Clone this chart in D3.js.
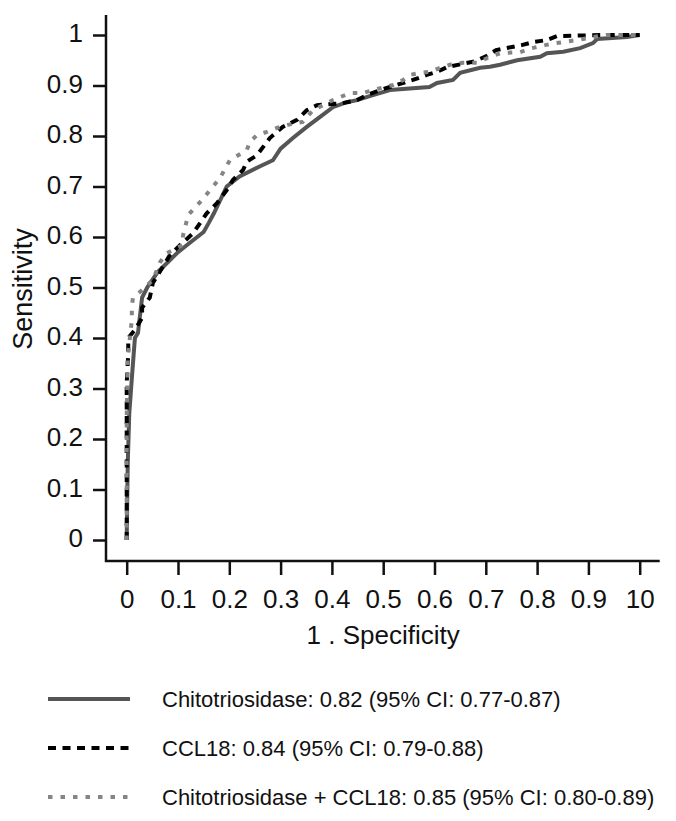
<!DOCTYPE html>
<html lang="en">
<head>
  <meta charset="UTF-8">
  <title>ROC curves</title>
  <style>
    body { margin: 0; background: #fff; }
    svg { display: block; font-family: "Liberation Sans", Arial, sans-serif; }
  </style>
</head>
<body>
  <svg id="chart" width="676" height="821"></svg>

  <script src="https://d3js.org/d3.v7.min.js"></script>
  <script>
    // ROC points: [1 - specificity, sensitivity]
    const chitoPoints = [
      [0, 0], [0.002, 0.15], [0.005, 0.25], [0.01, 0.32], [0.016, 0.40], [0.022, 0.41],
      [0.03, 0.48], [0.04, 0.50], [0.06, 0.53], [0.08, 0.55], [0.10, 0.57], [0.125, 0.59],
      [0.15, 0.61], [0.16, 0.628], [0.17, 0.647], [0.195, 0.70], [0.22, 0.72], [0.26, 0.74],
      [0.285, 0.752], [0.30, 0.775], [0.324, 0.796], [0.351, 0.818], [0.377, 0.838],
      [0.402, 0.857], [0.429, 0.867], [0.449, 0.871], [0.48, 0.881], [0.513, 0.891],
      [0.59, 0.897], [0.605, 0.905], [0.636, 0.911], [0.65, 0.925], [0.689, 0.935],
      [0.708, 0.937], [0.728, 0.941], [0.761, 0.95], [0.806, 0.957], [0.819, 0.964],
      [0.851, 0.967], [0.884, 0.974], [0.909, 0.984], [0.917, 0.992], [0.975, 0.996], [1, 1]
    ]

    const ccl18Points = [
      [0, 0], [0, 0.31], [0.003, 0.37], [0.003, 0.40], [0.016, 0.416], [0.03, 0.44],
      [0.03, 0.46], [0.045, 0.48], [0.051, 0.509], [0.07, 0.54], [0.084, 0.564], [0.10, 0.58],
      [0.13, 0.608], [0.156, 0.647], [0.176, 0.667], [0.195, 0.693], [0.207, 0.713],
      [0.227, 0.733], [0.234, 0.749], [0.254, 0.762], [0.279, 0.796], [0.304, 0.818],
      [0.332, 0.832], [0.351, 0.851], [0.371, 0.861], [0.421, 0.865], [0.449, 0.871],
      [0.468, 0.881], [0.494, 0.891], [0.513, 0.897], [0.558, 0.911], [0.585, 0.921],
      [0.605, 0.927], [0.626, 0.937], [0.675, 0.947], [0.699, 0.957], [0.72, 0.97],
      [0.77, 0.98], [0.792, 0.986], [0.819, 0.99], [0.839, 0.998], [0.93, 1], [1, 1]
    ]

    const comboPoints = [
      [0, 0], [0, 0.24], [0.002, 0.36], [0.01, 0.436], [0.01, 0.46], [0.012, 0.479],
      [0.03, 0.495], [0.051, 0.515], [0.065, 0.55], [0.078, 0.568], [0.109, 0.584],
      [0.11, 0.604], [0.12, 0.644], [0.143, 0.669], [0.166, 0.697], [0.182, 0.717],
      [0.201, 0.752], [0.234, 0.772], [0.24, 0.788], [0.254, 0.802], [0.273, 0.808],
      [0.293, 0.816], [0.314, 0.822], [0.343, 0.828], [0.363, 0.851], [0.39, 0.865],
      [0.402, 0.871], [0.435, 0.885], [0.46, 0.885], [0.48, 0.891], [0.519, 0.901],
      [0.539, 0.911], [0.552, 0.921], [0.572, 0.925], [0.591, 0.927], [0.611, 0.935],
      [0.63, 0.941], [0.655, 0.945], [0.683, 0.945], [0.702, 0.954], [0.728, 0.964],
      [0.767, 0.966], [0.79, 0.974], [0.825, 0.982], [0.851, 0.986], [0.878, 0.99],
      [0.909, 0.996], [0.935, 1], [1, 1]
    ]

    // Tick values and their printed labels (the last x label really reads "10")
    const tickValues = [0, 0.1, 0.2, 0.3, 0.4, 0.5, 0.6, 0.7, 0.8, 0.9, 1]
    const xTickLabels = ['0', '0.1', '0.2', '0.3', '0.4', '0.5', '0.6', '0.7', '0.8', '0.9', '10']
    const yTickLabels = ['0', '0.1', '0.2', '0.3', '0.4', '0.5', '0.6', '0.7', '0.8', '0.9', '1']

    const legendLabels = [
      'Chitotriosidase: 0.82 (95% CI: 0.77-0.87)',
      'CCL18: 0.84 (95% CI: 0.79-0.88)',
      'Chitotriosidase + CCL18: 0.85 (95% CI: 0.80-0.89)'
    ]

    const series = [
      { points: chitoPoints, color: '#555555', dash: null },
      { points: ccl18Points, color: '#000000', dash: '8,6.5' },
      { points: comboPoints, color: '#858585', dash: '4.5,8' }
    ]

    const svg = d3.select('#chart')

    const x = d3.scaleLinear().domain([0, 1]).range([126.7, 639.7])
    const y = d3.scaleLinear().domain([0, 1]).range([540, 35])

    const axisColor = '#111'

    // Y axis
    const leftAxis = d3.axisLeft(y)
      .tickValues(tickValues)
      .tickFormat((d, i) => yTickLabels[i])
      .tickSize(13)
      .tickPadding(10)

    const yAxisG = svg.append('g')
      .attr('transform', 'translate(106, 0)')
      .call(leftAxis)
    yAxisG.select('.domain').remove()
    yAxisG.selectAll('line').attr('stroke', axisColor).attr('stroke-width', 2.5)
    yAxisG.selectAll('text')
      .attr('font-size', 26)
      .attr('dy', '0.25em')
      .attr('font-family', '"Liberation Sans", Arial, sans-serif')
      .attr('fill', '#111')

    // X axis
    const bottomAxis = d3.axisBottom(x)
      .tickValues(tickValues)
      .tickFormat((d, i) => xTickLabels[i])
      .tickSize(14)
      .tickPadding(15)

    const xAxisG = svg.append('g')
      .attr('transform', 'translate(0, 561)')
      .call(bottomAxis)
    xAxisG.select('.domain').remove()
    xAxisG.selectAll('line').attr('stroke', axisColor).attr('stroke-width', 2.5)
    xAxisG.selectAll('text')
      .attr('font-size', 26)
      .attr('font-family', '"Liberation Sans", Arial, sans-serif')
      .attr('fill', '#111')

    // axis lines, running 20px past the ends of the scales
    svg.append('path')
      .attr('d', `M106,${y(1) - 20}V561H${x(1) + 20}`)
      .attr('fill', 'none')
      .attr('stroke', axisColor)
      .attr('stroke-width', 2.5)

    // Axis titles
    svg.append('text')
      .attr('x', (x(0) + x(1)) / 2)
      .attr('y', 644)
      .attr('text-anchor', 'middle')
      .attr('font-size', 26)
      .attr('fill', '#111')
      .text('1 . Specificity')

    svg.append('text')
      .attr('transform', 'translate(32, 289) rotate(-90)')
      .attr('text-anchor', 'middle')
      .attr('font-size', 27)
      .attr('fill', '#111')
      .text('Sensitivity')

    // Curves
    const line = d3.line()
      .x(d => x(d[0]))
      .y(d => y(d[1]))

    series.forEach(s => {
      svg.append('path')
        .datum(s.points)
        .attr('d', line)
        .attr('fill', 'none')
        .attr('stroke', s.color)
        .attr('stroke-width', 4)
        .attr('stroke-dasharray', s.dash)
        .attr('stroke-linejoin', 'miter')
    })

    // Legend
    const legend = svg.append('g')
    const legendY = [699, 748, 797]

    legend.selectAll('line')
      .data(series)
      .enter()
      .append('line')
      .attr('x1', 48)
      .attr('x2', 130)
      .attr('y1', (d, i) => legendY[i])
      .attr('y2', (d, i) => legendY[i])
      .attr('stroke', d => d.color)
      .attr('stroke-width', 4)
      .attr('stroke-dasharray', d => d.dash)

    legend.selectAll('text')
      .data(legendLabels)
      .enter()
      .append('text')
      .attr('x', 162)
      .attr('y', (d, i) => legendY[i] + 8)
      .attr('font-size', 22)
      .attr('fill', '#111')
      .text(d => d)
  </script>
</body>
</html>
